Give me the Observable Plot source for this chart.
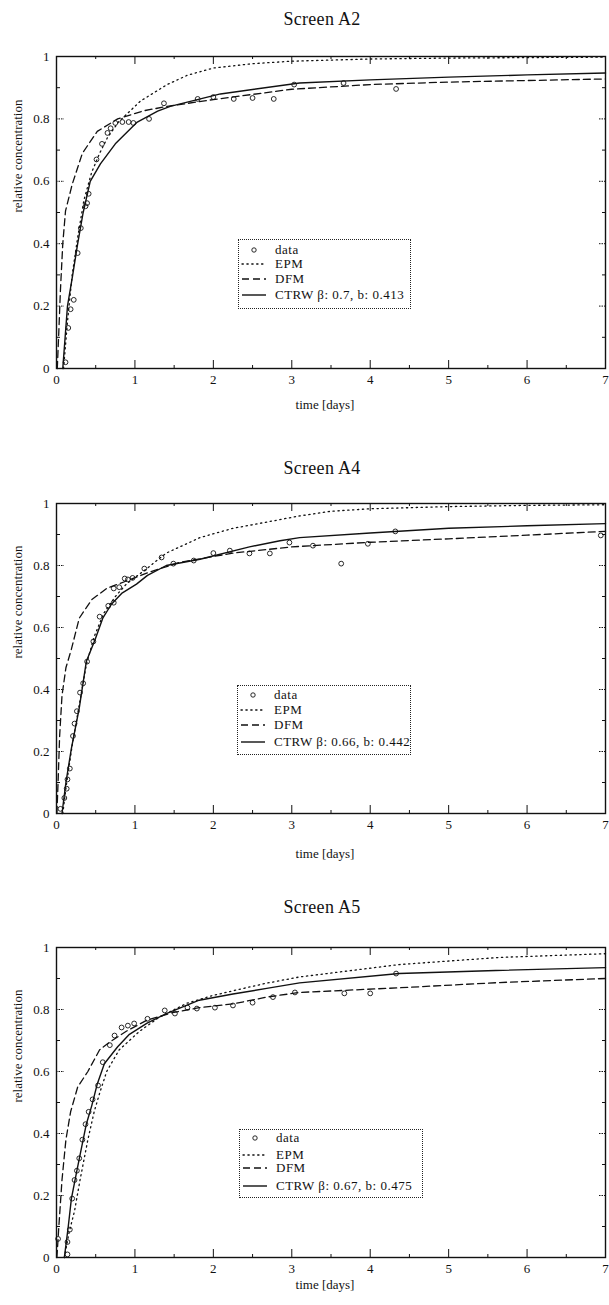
<!DOCTYPE html>
<html>
<head>
<meta charset="utf-8">
<script src="https://cdn.jsdelivr.net/npm/d3@7"></script>
<script src="https://cdn.jsdelivr.net/npm/@observablehq/plot@0.6"></script>
<style>
  body { margin: 0; background: #fff; }
  #page { position: relative; width: 609px; height: 1305px; overflow: hidden;
          font-family: "Liberation Serif", "Times New Roman", serif; color: #111; }
  .title { position: absolute; left: 222px; width: 200px; text-align: center;
           font-size: 18px; line-height: 22px; letter-spacing: 0.3px; }
  .panel { position: absolute; left: 0; }
  .legend { position: absolute; border: 1px dotted #222; background: #fff; box-sizing: border-box; }
  .legend .row { position: absolute; left: 0; height: 14px; line-height: 14px;
                 font-size: 13px; letter-spacing: 0.5px; white-space: nowrap; }
  .legend .row svg { position: absolute; left: 2px; top: 2px; }
  .legend .row span { position: absolute; left: 36px; top: 0; }
</style>
</head>
<body>
<div id="page"></div>
<script>
// Axis ticks and labels
const xMajor = [0, 1, 2, 3, 4, 5, 6, 7];
const xMinor = [0.5, 1.5, 2.5, 3.5, 4.5, 5.5, 6.5];
const xTickLabels = ["0", "1", "2", "3", "4", "5", "6", "7"];
const yMajor = [0, 0.2, 0.4, 0.6, 0.8, 1];
const yMinor = [0.1, 0.3, 0.5, 0.7, 0.9];
const yTickLabels = ["0", "0.2", "0.4", "0.6", "0.8", "1"];
const seriesNames = ["data", "EPM", "DFM"];

// Screen A2: measured breakthrough [time (days), relative concentration]
const a2Observed = [
  [0.115, 0.02], [0.15, 0.13], [0.18, 0.19], [0.22, 0.22], [0.27, 0.37], [0.31, 0.45],
  [0.37, 0.52], [0.39, 0.53], [0.41, 0.56], [0.51, 0.67], [0.58, 0.72], [0.65, 0.755],
  [0.69, 0.77], [0.75, 0.787], [0.84, 0.79], [0.92, 0.79], [0.98, 0.787], [1.18, 0.80],
  [1.37, 0.85], [1.8, 0.864], [2.0, 0.87], [2.26, 0.864], [2.5, 0.867], [2.77, 0.864],
  [3.03, 0.91], [3.66, 0.915], [4.33, 0.896]
];
const a2EPM = [
  [0.09, 0], [0.14, 0.15], [0.2, 0.3], [0.27, 0.42], [0.35, 0.54], [0.45, 0.63], [0.55, 0.69],
  [0.65, 0.74], [0.79, 0.79], [1.07, 0.857], [1.41, 0.91], [1.67, 0.94], [2.0, 0.963],
  [2.5, 0.977], [3, 0.985], [4, 0.992], [5, 0.995], [7, 0.998]
];
const a2DFM = [
  [0.01, 0], [0.03, 0.12], [0.05, 0.25], [0.08, 0.4], [0.115, 0.505], [0.2, 0.59], [0.33, 0.69],
  [0.52, 0.76], [0.78, 0.8], [1.11, 0.826], [1.41, 0.84], [2, 0.862], [3, 0.895], [4, 0.91],
  [5, 0.918], [6, 0.923], [7, 0.928]
];
const a2CTRW = [
  [0.08, 0], [0.11, 0.1], [0.14, 0.2], [0.2, 0.29], [0.27, 0.4], [0.34, 0.5], [0.43, 0.6],
  [0.56, 0.656], [0.75, 0.72], [1.03, 0.79], [1.29, 0.825], [1.45, 0.84], [2.09, 0.88],
  [3.1, 0.915], [4, 0.925], [5, 0.934], [6, 0.941], [7, 0.947]
];

// Screen A4
const a4Observed = [
  [0.05, 0.015], [0.1, 0.05], [0.13, 0.08], [0.14, 0.11], [0.17, 0.145], [0.21, 0.25],
  [0.23, 0.29], [0.26, 0.33], [0.3, 0.39], [0.34, 0.42], [0.39, 0.49], [0.47, 0.555],
  [0.55, 0.635], [0.66, 0.67], [0.73, 0.68], [0.73, 0.726], [0.8, 0.73], [0.87, 0.758],
  [0.91, 0.755], [0.97, 0.76], [1.12, 0.79], [1.34, 0.826], [1.49, 0.806], [1.75, 0.816],
  [2.0, 0.84], [2.21, 0.848], [2.46, 0.839], [2.72, 0.839], [2.97, 0.874], [3.27, 0.864],
  [3.63, 0.806], [3.97, 0.87], [4.32, 0.91], [6.94, 0.897]
];
const a4EPM = [
  [0.08, 0], [0.13, 0.1], [0.2, 0.22], [0.29, 0.35], [0.38, 0.48], [0.48, 0.57], [0.6, 0.645],
  [0.75, 0.7], [0.89, 0.74], [1.15, 0.79], [1.4, 0.84], [1.83, 0.89], [2.25, 0.92],
  [2.68, 0.94], [3.1, 0.96], [3.5, 0.975], [4, 0.983], [5, 0.99], [6, 0.994], [7, 0.996]
];
const a4DFM = [
  [0.005, 0], [0.02, 0.1], [0.04, 0.25], [0.07, 0.38], [0.12, 0.47], [0.19, 0.53], [0.24, 0.58],
  [0.29, 0.63], [0.45, 0.69], [0.64, 0.726], [0.89, 0.75], [1.2, 0.78], [1.57, 0.81],
  [2.25, 0.84], [3.0, 0.86], [4, 0.875], [5, 0.886], [6, 0.898], [7, 0.91]
];
const a4CTRW = [
  [0.07, 0], [0.12, 0.1], [0.19, 0.21], [0.29, 0.34], [0.38, 0.49], [0.49, 0.56], [0.59, 0.63],
  [0.7, 0.675], [0.83, 0.71], [1.02, 0.74], [1.16, 0.768], [1.4, 0.8], [1.83, 0.82],
  [2.46, 0.86], [2.85, 0.88], [3.1, 0.89], [4, 0.905], [5, 0.92], [6, 0.928], [7, 0.935]
];

// Screen A5
const a5Observed = [
  [0.02, 0.06], [0.14, 0.01], [0.14, 0.05], [0.17, 0.09], [0.2, 0.19], [0.23, 0.25],
  [0.26, 0.28], [0.29, 0.32], [0.33, 0.38], [0.37, 0.43], [0.41, 0.47], [0.46, 0.51],
  [0.53, 0.555], [0.59, 0.63], [0.68, 0.685], [0.74, 0.716], [0.83, 0.742], [0.91, 0.748],
  [0.99, 0.755], [1.16, 0.77], [1.38, 0.797], [1.51, 0.787], [1.67, 0.806], [1.79, 0.803],
  [2.02, 0.806], [2.25, 0.813], [2.5, 0.822], [2.76, 0.84], [3.04, 0.855], [3.67, 0.852],
  [4.0, 0.852], [4.33, 0.916]
];
const a5EPM = [
  [0.1, 0], [0.16, 0.08], [0.23, 0.15], [0.3, 0.25], [0.4, 0.38], [0.48, 0.47], [0.55, 0.53],
  [0.64, 0.6], [0.8, 0.67], [1.06, 0.73], [1.31, 0.775], [1.66, 0.82], [1.99, 0.845],
  [2.33, 0.865], [2.68, 0.885], [3.1, 0.905], [4.37, 0.945], [5.65, 0.968], [7, 0.98]
];
const a5DFM = [
  [0.005, 0], [0.03, 0.1], [0.07, 0.25], [0.12, 0.38], [0.18, 0.47], [0.27, 0.55], [0.4, 0.6],
  [0.55, 0.67], [0.68, 0.695], [0.89, 0.73], [1.15, 0.765], [1.48, 0.79], [1.82, 0.806],
  [2.25, 0.818], [2.68, 0.84], [3.1, 0.855], [4.37, 0.87], [5.65, 0.887], [7, 0.9]
];
const a5CTRW = [
  [0.1, 0], [0.15, 0.1], [0.19, 0.19], [0.26, 0.28], [0.32, 0.355], [0.38, 0.43], [0.45, 0.49],
  [0.52, 0.56], [0.61, 0.625], [0.78, 0.68], [0.93, 0.72], [1.15, 0.755], [1.4, 0.787],
  [1.82, 0.83], [2.25, 0.85], [2.68, 0.868], [3.1, 0.886], [4.37, 0.916], [5.6, 0.926], [7, 0.935]
];

const ctrwLabels = ["CTRW β: 0.7, b: 0.413", "CTRW β: 0.66, b: 0.442", "CTRW β: 0.67, b: 0.475"];
const titles = ["Screen A2", "Screen A4", "Screen A5"];

const panels = [
  { title: titles[0], titleY: 8, frameTop: 56, frameBottom: 368, xLabelDy: 40,
    obs: a2Observed, epm: a2EPM, dfm: a2DFM, ctrw: a2CTRW, ctrwLabel: ctrwLabels[0],
    legend: { left: 238, top: 239, width: 173, height: 70, rows: [11, 25, 40, 56] } },
  { title: titles[1], titleY: 457, frameTop: 503, frameBottom: 813, xLabelDy: 44,
    obs: a4Observed, epm: a4EPM, dfm: a4DFM, ctrw: a4CTRW, ctrwLabel: ctrwLabels[1],
    legend: { left: 237, top: 685, width: 174, height: 70, rows: [10, 25, 40, 57] } },
  { title: titles[2], titleY: 896, frameTop: 947, frameBottom: 1257, xLabelDy: 31,
    obs: a5Observed, epm: a5EPM, dfm: a5DFM, ctrw: a5CTRW, ctrwLabel: ctrwLabels[2],
    legend: { left: 239, top: 1129, width: 184, height: 69, rows: [9, 26, 39, 57] } }
];

const ink = "#111";
const serif = "Liberation Serif, Times New Roman, serif";
const dotted = "1.3,3.6";
const dashed = "7,4";
const page = document.getElementById("page");
const marginLeft = 56, marginRight = 4;
const frameWidth = 609 - marginLeft - marginRight;

panels.forEach(p => {
  const title = document.createElement("div");
  title.className = "title";
  title.style.top = p.titleY + "px";
  title.textContent = p.title;
  page.appendChild(title);

  const mt = 8, mb = 48;
  const fh = p.frameBottom - p.frameTop;
  const tickStyle = { stroke: ink, strokeWidth: 1 };
  const chart = Plot.plot({
    width: 609,
    height: mt + fh + mb,
    marginTop: mt,
    marginBottom: mb,
    marginLeft,
    marginRight,
    x: { domain: [0, 7] },
    y: { domain: [0, 1] },
    style: { fontFamily: serif, fontSize: "13px", color: ink, background: "transparent", overflow: "visible" },
    marks: [
      // tick labels
      Plot.axisY(yMajor, { anchor: "left", tickSize: 0, tickPadding: 7, label: null, fontSize: 13,
        tickFormat: d => yTickLabels[yMajor.indexOf(d)] }),
      Plot.axisX(xMajor, { anchor: "bottom", tickSize: 0, tickPadding: 6, label: null, fontSize: 13,
        tickFormat: d => xTickLabels[xMajor.indexOf(d)] }),
      // inward tick marks on all four sides
      Plot.tickY(yMajor, { y: d => d, insetRight: frameWidth - 8, ...tickStyle, strokeDasharray: "1.5,1" }),
      Plot.tickY(yMinor, { y: d => d, insetRight: frameWidth - 4, ...tickStyle }),
      Plot.tickY(yMajor, { y: d => d, insetLeft: frameWidth - 6, ...tickStyle, strokeDasharray: "1.5,1" }),
      Plot.tickY(yMinor, { y: d => d, insetLeft: frameWidth - 3, ...tickStyle }),
      Plot.tickX(xMajor, { x: d => d, insetTop: fh - 8, ...tickStyle }),
      Plot.tickX(xMinor, { x: d => d, insetTop: fh - 3, ...tickStyle }),
      Plot.tickX(xMajor, { x: d => d, insetBottom: fh - 8, ...tickStyle }),
      Plot.tickX(xMinor, { x: d => d, insetBottom: fh - 3, ...tickStyle }),
      Plot.frame({ stroke: ink, strokeWidth: 1.4 }),
      // model curves
      Plot.line(p.epm, { x: d => d[0], y: d => d[1], stroke: ink, strokeWidth: 1.3, strokeDasharray: dotted, strokeLinecap: "round" }),
      Plot.line(p.dfm, { x: d => d[0], y: d => d[1], stroke: ink, strokeWidth: 1.3, strokeDasharray: dashed }),
      Plot.line(p.ctrw, { x: d => d[0], y: d => d[1], stroke: ink, strokeWidth: 1.4 }),
      // measurements
      Plot.dot(p.obs, { x: d => d[0], y: d => d[1], r: 2.4, stroke: ink, strokeWidth: 0.9, fill: "none" }),
      // axis titles
      Plot.text(["relative concentration"], { frameAnchor: "left", rotate: -90, dx: -39, fontSize: 13, fill: ink }),
      Plot.text(["time [days]"], { frameAnchor: "bottom", dy: p.xLabelDy, dx: -6, fontSize: 13, fill: ink })
    ]
  });
  const wrap = document.createElement("div");
  wrap.className = "panel";
  wrap.style.top = (p.frameTop - mt) + "px";
  wrap.appendChild(chart);
  page.appendChild(wrap);

  // legend box
  const L = p.legend;
  const box = document.createElement("div");
  box.className = "legend";
  Object.assign(box.style, { left: L.left + "px", top: L.top + "px", width: L.width + "px", height: L.height + "px" });
  const labels = [...seriesNames, p.ctrwLabel];
  const swatches = [
    `<circle cx="13" cy="5" r="2.2" fill="none" stroke="${ink}" stroke-width="0.9"/>`,
    `<line x1="1" x2="25" y1="5" y2="5" stroke="${ink}" stroke-width="1.3" stroke-dasharray="${dotted}" stroke-linecap="round"/>`,
    `<line x1="1" x2="25" y1="5" y2="5" stroke="${ink}" stroke-width="1.3" stroke-dasharray="${dashed}"/>`,
    `<line x1="1" x2="25" y1="5" y2="5" stroke="${ink}" stroke-width="1.4"/>`
  ];
  labels.forEach((lab, i) => {
    const row = document.createElement("div");
    row.className = "row";
    row.style.top = (L.rows[i] - 8) + "px";
    row.innerHTML = `<svg width="28" height="10">${swatches[i]}</svg><span></span>`;
    row.querySelector("span").textContent = lab;
    box.appendChild(row);
  });
  page.appendChild(box);
});
</script>
</body>
</html>
